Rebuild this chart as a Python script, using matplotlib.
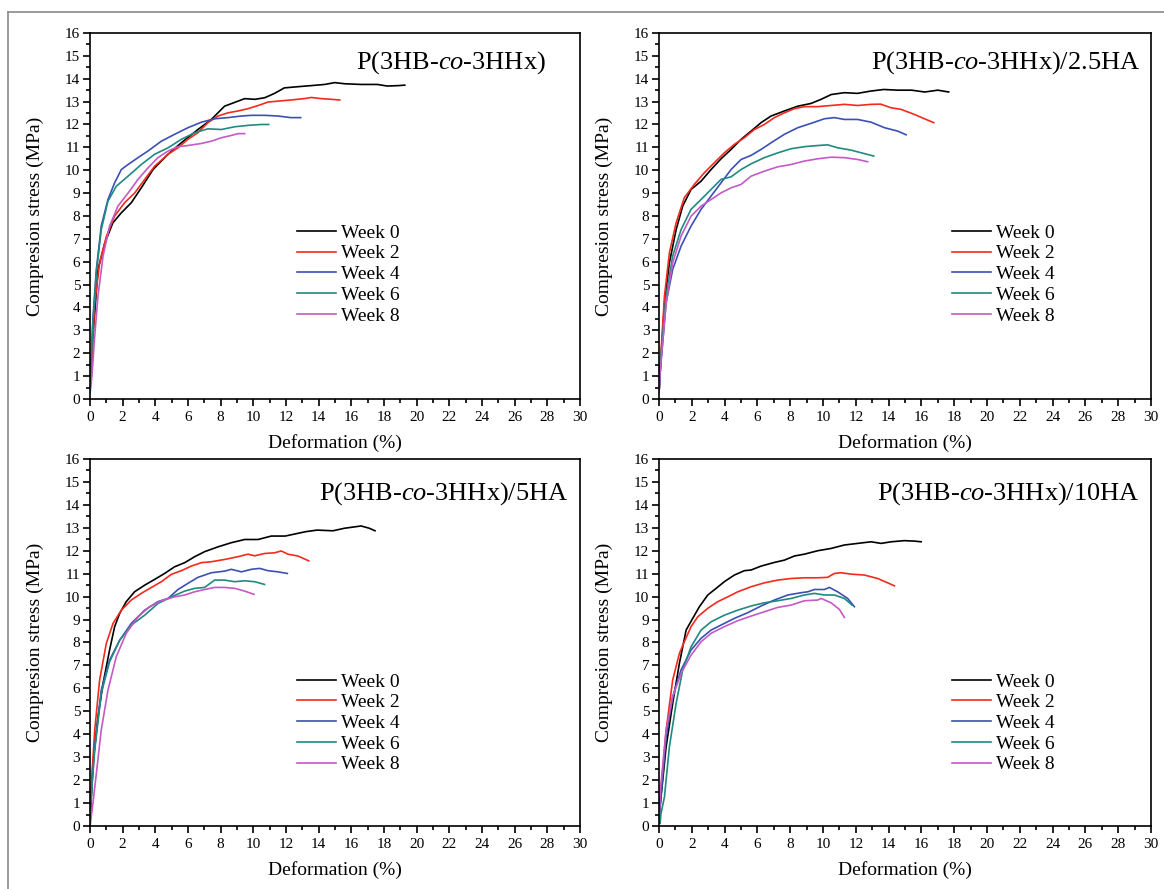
import matplotlib
matplotlib.use('Agg')
import matplotlib.pyplot as plt
from matplotlib.lines import Line2D
from matplotlib.ticker import MultipleLocator

plt.rcParams['font.family'] = ['Liberation Serif', 'DejaVu Serif']
plt.rcParams['mathtext.fontset'] = 'custom'
plt.rcParams['mathtext.rm'] = 'Liberation Serif'
plt.rcParams['mathtext.it'] = 'Liberation Serif:italic'

weeks = ['Week 0', 'Week 2', 'Week 4', 'Week 6', 'Week 8']
colors = ['#000000', '#f52a1e', '#3c50b4', '#1f8a80', '#c45ac4']
titles = [r'P(3HB-$\mathit{co}$-3HHx)', r'P(3HB-$\mathit{co}$-3HHx)/2.5HA',
          r'P(3HB-$\mathit{co}$-3HHx)/5HA', r'P(3HB-$\mathit{co}$-3HHx)/10HA']

# ---- P(3HB-co-3HHx) ----
pa_x0 = [0, 0.18, 0.49, 0.9, 1.4, 1.92, 2.53, 3.14, 3.86, 4.78, 5.59, 6.61, 7.43, 8.24, 9.06, 9.47,
         10.1, 10.7, 11.3, 11.9, 12.7, 13.55, 14.37, 14.98, 15.6, 16.6, 17.6, 18.2, 18.9, 19.27]
pa_y0 = [0.3, 2.7, 5.66, 6.8, 7.7, 8.14, 8.58, 9.23, 10.03, 10.7, 11.2, 11.78, 12.22, 12.8, 13.02, 13.13,
         13.1, 13.17, 13.36, 13.6, 13.65, 13.7, 13.75, 13.83, 13.78, 13.75, 13.75, 13.68, 13.7, 13.72]
pa_x2 = [0, 0.08, 0.29, 0.59, 1.0, 1.51, 2.12, 2.73, 3.35, 3.96, 4.78, 5.39, 5.99, 6.6, 7.22, 7.84, 8.45,
         9.06, 9.67, 10.3, 10.9, 11.5, 12.3, 13.1, 13.55, 14.16, 14.78, 15.29]
pa_y2 = [0.3, 1.3, 4.2, 5.95, 7.1, 8.0, 8.58, 9.0, 9.6, 10.18, 10.7, 10.98, 11.35, 11.64, 12.08, 12.37, 12.51,
         12.59, 12.69, 12.83, 12.98, 13.02, 13.07, 13.13, 13.18, 13.13, 13.1, 13.07]
pa_x4 = [0, 0.04, 0.18, 0.39, 0.69, 1.1, 1.51, 1.92, 2.33, 2.94, 3.55, 4.37, 5.18, 6.0, 6.82, 7.63, 8.45,
         9.27, 9.88, 10.7, 11.5, 12.3, 12.9]
pa_y4 = [0.3, 1.3, 3.5, 5.66, 7.56, 8.72, 9.45, 10.03, 10.25, 10.55, 10.84, 11.27, 11.57, 11.86, 12.1, 12.25, 12.3,
         12.37, 12.4, 12.4, 12.37, 12.3, 12.3]
pa_x6 = [0, 0.04, 0.18, 0.39, 0.69, 1.1, 1.61, 2.33, 3.14, 3.96, 4.78, 5.59, 6.41, 7.22, 8.04, 8.86, 9.67,
         10.49, 10.94]
pa_y6 = [0.3, 1.3, 3.33, 5.52, 7.4, 8.65, 9.3, 9.74, 10.25, 10.7, 10.98, 11.35, 11.64, 11.81, 11.78, 11.9, 11.96,
         12.0, 12.0]
pa_x8 = [0.02, 0.12, 0.29, 0.49, 0.8, 1.2, 1.71, 2.33, 2.94, 3.55, 4.16, 4.78, 5.39, 5.99, 6.82, 7.43, 8.04,
         8.65, 9.06, 9.47]
pa_y8 = [0.35, 1.0, 2.75, 4.5, 6.25, 7.56, 8.43, 9.0, 9.6, 10.1, 10.55, 10.84, 11.03, 11.08, 11.17, 11.27, 11.42,
         11.52, 11.6, 11.6]

# ---- /2.5HA ----
pb_x0 = [0, 0.08, 0.33, 0.63, 1.04, 1.44, 1.95, 2.56, 3.17, 3.78, 4.39, 5.0, 5.61, 6.22, 6.83, 7.64, 8.46,
         9.27, 9.88, 10.5, 11.3, 12.1, 12.9, 13.7, 14.55, 15.4, 16.2, 17.0, 17.66]
pb_y0 = [0.3, 1.3, 4.2, 5.95, 7.4, 8.43, 9.16, 9.52, 10.03, 10.5, 10.91, 11.35, 11.71, 12.08, 12.37, 12.59, 12.8,
         12.92, 13.1, 13.31, 13.39, 13.36, 13.46, 13.53, 13.5, 13.5, 13.42, 13.5, 13.42]
pb_x2 = [0, 0.08, 0.33, 0.63, 1.04, 1.54, 2.15, 2.76, 3.37, 3.98, 4.59, 5.2, 5.81, 6.42, 7.03, 7.64, 8.25,
         8.86, 9.67, 10.49, 11.3, 12.11, 12.93, 13.5, 14.15, 14.76, 15.57, 16.18, 16.75]
pb_y2 = [0.3, 1.6, 4.5, 6.39, 7.7, 8.8, 9.38, 9.89, 10.33, 10.76, 11.13, 11.42, 11.78, 12.0, 12.3, 12.51, 12.69,
         12.78, 12.78, 12.83, 12.88, 12.83, 12.88, 12.89, 12.73, 12.66, 12.44, 12.25, 12.08]
pb_x4 = [0, 0.08, 0.43, 0.83, 1.34, 1.95, 2.56, 3.17, 3.78, 4.39, 5.0, 5.61, 6.22, 6.83, 7.64, 8.46, 9.27,
         10.08, 10.69, 11.3, 12.11, 12.93, 13.74, 14.55, 15.06]
pb_y4 = [0.3, 1.3, 4.2, 5.66, 6.68, 7.56, 8.29, 8.87, 9.45, 10.03, 10.47, 10.65, 10.91, 11.2, 11.57, 11.86, 12.05,
         12.25, 12.3, 12.22, 12.22, 12.1, 11.86, 11.71, 11.55]
pb_x6 = [0, 0.08, 0.43, 0.83, 1.34, 1.95, 2.56, 3.17, 3.78, 4.39, 5.0, 5.61, 6.42, 7.24, 8.05, 8.86, 9.67,
         10.28, 10.89, 11.7, 12.5, 13.09]
pb_y6 = [0.3, 1.6, 4.5, 6.25, 7.4, 8.29, 8.72, 9.16, 9.6, 9.71, 10.03, 10.28, 10.55, 10.76, 10.94, 11.03, 11.08,
         11.11, 10.98, 10.88, 10.73, 10.62]
pb_x8 = [0, 0.08, 0.43, 0.83, 1.34, 1.95, 2.56, 3.17, 3.78, 4.39, 5.0, 5.61, 6.42, 7.24, 8.05, 8.86, 9.67,
         10.49, 11.3, 12.11, 12.72]
pb_y8 = [0.3, 1.3, 4.2, 5.95, 7.12, 7.99, 8.43, 8.72, 9.01, 9.23, 9.38, 9.74, 9.96, 10.15, 10.25, 10.4, 10.5,
         10.57, 10.55, 10.47, 10.37]

# ---- /5HA ----
pc_x0 = [0, 0.04, 0.18, 0.49, 0.8, 1.2, 1.51, 1.82, 2.22, 2.73, 3.35, 3.96, 4.57, 5.18, 5.8, 6.41, 7.02,
         7.84, 8.65, 9.47, 10.29, 11.1, 11.95, 13.2, 13.9, 14.88, 15.58, 16.6, 17.1, 17.45]
pc_y0 = [0.2, 0.55, 2.73, 4.76, 6.21, 7.67, 8.69, 9.27, 9.78, 10.21, 10.5, 10.75, 11.01, 11.3, 11.48, 11.74, 11.96,
         12.17, 12.35, 12.49, 12.49, 12.64, 12.64, 12.83, 12.9, 12.87, 12.98, 13.08, 12.98, 12.87]
pc_x2 = [0, 0.04, 0.29, 0.59, 1.0, 1.41, 1.92, 2.53, 3.14, 3.76, 4.37, 4.98, 5.59, 6.2, 6.82, 7.43, 8.24,
         9.06, 9.67, 10.08, 10.69, 11.3, 11.71, 12.12, 12.73, 13.39]
pc_y2 = [0.2, 1.27, 4.18, 6.36, 7.96, 8.83, 9.41, 9.85, 10.14, 10.4, 10.65, 10.97, 11.13, 11.33, 11.48, 11.52, 11.62,
         11.74, 11.85, 11.78, 11.88, 11.91, 11.99, 11.85, 11.77, 11.56]
pc_x4 = [0, 0.04, 0.29, 0.69, 1.2, 1.82, 2.53, 3.35, 4.16, 4.78, 5.39, 6.0, 6.61, 7.43, 8.24, 8.65, 9.27,
         9.88, 10.39, 10.9, 11.5, 12.08]
pc_y4 = [0.2, 0.98, 3.45, 5.92, 7.23, 8.1, 8.83, 9.41, 9.78, 9.92, 10.31, 10.58, 10.84, 11.04, 11.11, 11.19, 11.08,
         11.19, 11.23, 11.13, 11.08, 11.01]
pc_x6 = [0, 0.04, 0.29, 0.69, 1.2, 1.82, 2.53, 3.35, 4.16, 4.98, 5.8, 6.41, 7.02, 7.63, 8.24, 8.86, 9.47,
         10.08, 10.69]
pc_y6 = [0.2, 0.98, 3.31, 5.78, 7.16, 8.1, 8.76, 9.19, 9.7, 9.99, 10.24, 10.36, 10.4, 10.72, 10.72, 10.65, 10.69,
         10.65, 10.53]
pc_x8 = [0.02, 0.04, 0.18, 0.39, 0.69, 1.1, 1.61, 2.22, 2.94, 3.65, 4.37, 5.18, 5.8, 6.41, 7.02, 7.63, 8.24,
         8.86, 9.47, 10.04]
pc_y8 = [0.05, 0.18, 0.98, 2.29, 4.18, 5.92, 7.38, 8.4, 9.12, 9.56, 9.82, 9.99, 10.07, 10.21, 10.31, 10.4, 10.4,
         10.36, 10.24, 10.1]

# ---- /10HA ----
pd_x0 = [0, 0.08, 0.43, 0.83, 1.24, 1.65, 2.05, 2.46, 2.97, 3.48, 3.98, 4.59, 5.2, 5.61, 6.22, 7.03, 7.64,
         8.25, 8.86, 9.67, 10.49, 11.3, 12.11, 12.93, 13.54, 14.15, 14.96, 15.57, 15.98]
pd_y0 = [0.3, 0.98, 3.45, 5.34, 7.09, 8.54, 9.05, 9.56, 10.07, 10.36, 10.65, 10.94, 11.13, 11.16, 11.33, 11.49, 11.59,
         11.77, 11.85, 12.0, 12.1, 12.25, 12.32, 12.39, 12.32, 12.39, 12.44, 12.42, 12.39]
pd_x2 = [0, 0.08, 0.43, 0.83, 1.24, 1.54, 1.95, 2.36, 2.97, 3.58, 4.19, 4.8, 5.61, 6.42, 7.24, 8.05, 8.86,
         9.67, 10.28, 10.69, 11.1, 11.71, 12.52, 13.33, 13.94, 14.35]
pd_y2 = [0.3, 1.27, 4.18, 6.36, 7.52, 8.03, 8.69, 9.12, 9.49, 9.78, 9.99, 10.21, 10.43, 10.6, 10.72, 10.79, 10.82,
         10.82, 10.84, 11.01, 11.04, 10.98, 10.94, 10.79, 10.6, 10.47]
pd_x4 = [0, 0.08, 0.43, 0.83, 1.34, 1.95, 2.56, 3.17, 3.78, 4.59, 5.41, 6.22, 7.03, 7.85, 8.66, 9.07, 9.47,
         10.08, 10.39, 10.89, 11.5, 11.91]
pd_y4 = [0.3, 0.98, 3.89, 5.63, 6.8, 7.67, 8.18, 8.54, 8.76, 9.05, 9.3, 9.59, 9.85, 10.07, 10.17, 10.21, 10.31,
         10.31, 10.4, 10.21, 9.92, 9.56]
pd_x6 = [0, 0.06, 0.12, 0.33, 0.63, 1.04, 1.44, 1.95, 2.56, 3.17, 3.98, 4.8, 5.61, 6.42, 7.24, 8.05, 8.86,
         9.47, 10.08, 10.69, 11.3, 11.77]
pd_y6 = [0.2, 0.1, 0.55, 1.27, 3.45, 5.34, 6.8, 7.81, 8.54, 8.9, 9.19, 9.41, 9.59, 9.73, 9.82, 9.92, 10.07,
         10.14, 10.07, 10.07, 9.92, 9.63]
pd_x8 = [0, 0.08, 0.43, 0.83, 1.34, 1.95, 2.56, 3.17, 3.98, 4.8, 5.61, 6.42, 7.24, 8.05, 8.86, 9.67, 9.88,
         10.49, 11.0, 11.3]
pd_y8 = [0.3, 1.56, 4.18, 5.63, 6.65, 7.45, 8.03, 8.4, 8.69, 8.95, 9.15, 9.34, 9.53, 9.63, 9.82, 9.85, 9.92,
         9.73, 9.44, 9.09]

panels = [
    [(pa_x0, pa_y0), (pa_x2, pa_y2), (pa_x4, pa_y4), (pa_x6, pa_y6), (pa_x8, pa_y8)],
    [(pb_x0, pb_y0), (pb_x2, pb_y2), (pb_x4, pb_y4), (pb_x6, pb_y6), (pb_x8, pb_y8)],
    [(pc_x0, pc_y0), (pc_x2, pc_y2), (pc_x4, pc_y4), (pc_x6, pc_y6), (pc_x8, pc_y8)],
    [(pd_x0, pd_y0), (pd_x2, pd_y2), (pd_x4, pd_y4), (pd_x6, pd_y6), (pd_x8, pd_y8)],
]

# axes rectangles in figure fractions
rects = [
    [0.0773, 0.5512, 0.4210, 0.4117],
    [0.5662, 0.5512, 0.4227, 0.4117],
    [0.0773, 0.0709, 0.4210, 0.4128],
    [0.5662, 0.0709, 0.4227, 0.4128],
]
title_x = [0.93, 0.977, 0.977, 0.977]
title_y = [0.918, 0.918, 0.907, 0.907]
leg_pos = [(0.422, 0.478), (0.596, 0.478), (0.422, 0.417), (0.596, 0.417)]

fig = plt.figure(figsize=(11.64, 8.89), dpi=100)

for i in range(4):
    ax = fig.add_axes(rects[i])
    for (xs, ys), c, lab in zip(panels[i], colors, weeks):
        ax.plot(xs, ys, color=c, lw=1.2, label=lab)
    ax.set_xlim(0, 30)
    ax.set_ylim(0, 16)
    ax.xaxis.set_major_locator(MultipleLocator(2))
    ax.xaxis.set_minor_locator(MultipleLocator(1))
    ax.yaxis.set_major_locator(MultipleLocator(1))
    ax.yaxis.set_minor_locator(MultipleLocator(0.5))
    ax.tick_params(which='both', direction='out', top=False, right=False, width=1.2, labelsize=11)
    ax.tick_params(axis='x', pad=4)
    ax.tick_params(axis='y', pad=2)
    ax.tick_params(which='major', length=5)
    ax.tick_params(which='minor', length=3)
    for sp in ax.spines.values():
        sp.set_linewidth(1.2)
    ax.set_xlabel('Deformation (%)', fontsize=14, labelpad=7)
    ax.set_ylabel('Compresion stress (MPa)', fontsize=14, labelpad=15)
    ax.text(title_x[i], title_y[i], titles[i], transform=ax.transAxes, ha='right', va='center', fontsize=19)
    ax.legend(loc='upper left', bbox_to_anchor=leg_pos[i], frameon=False, fontsize=14,
              handlelength=2.0, handletextpad=0.25, labelspacing=0.16, borderpad=0, borderaxespad=0)

# grey frame around the figure
fig.add_artist(Line2D([8 / 1164, 1], [1 - 12 / 889, 1 - 12 / 889], transform=fig.transFigure, color='#8a8a8a', lw=1.2))
fig.add_artist(Line2D([8 / 1164, 8 / 1164], [0, 1 - 12 / 889], transform=fig.transFigure, color='#8a8a8a', lw=1.2))

fig.savefig('out.png', dpi=100)
